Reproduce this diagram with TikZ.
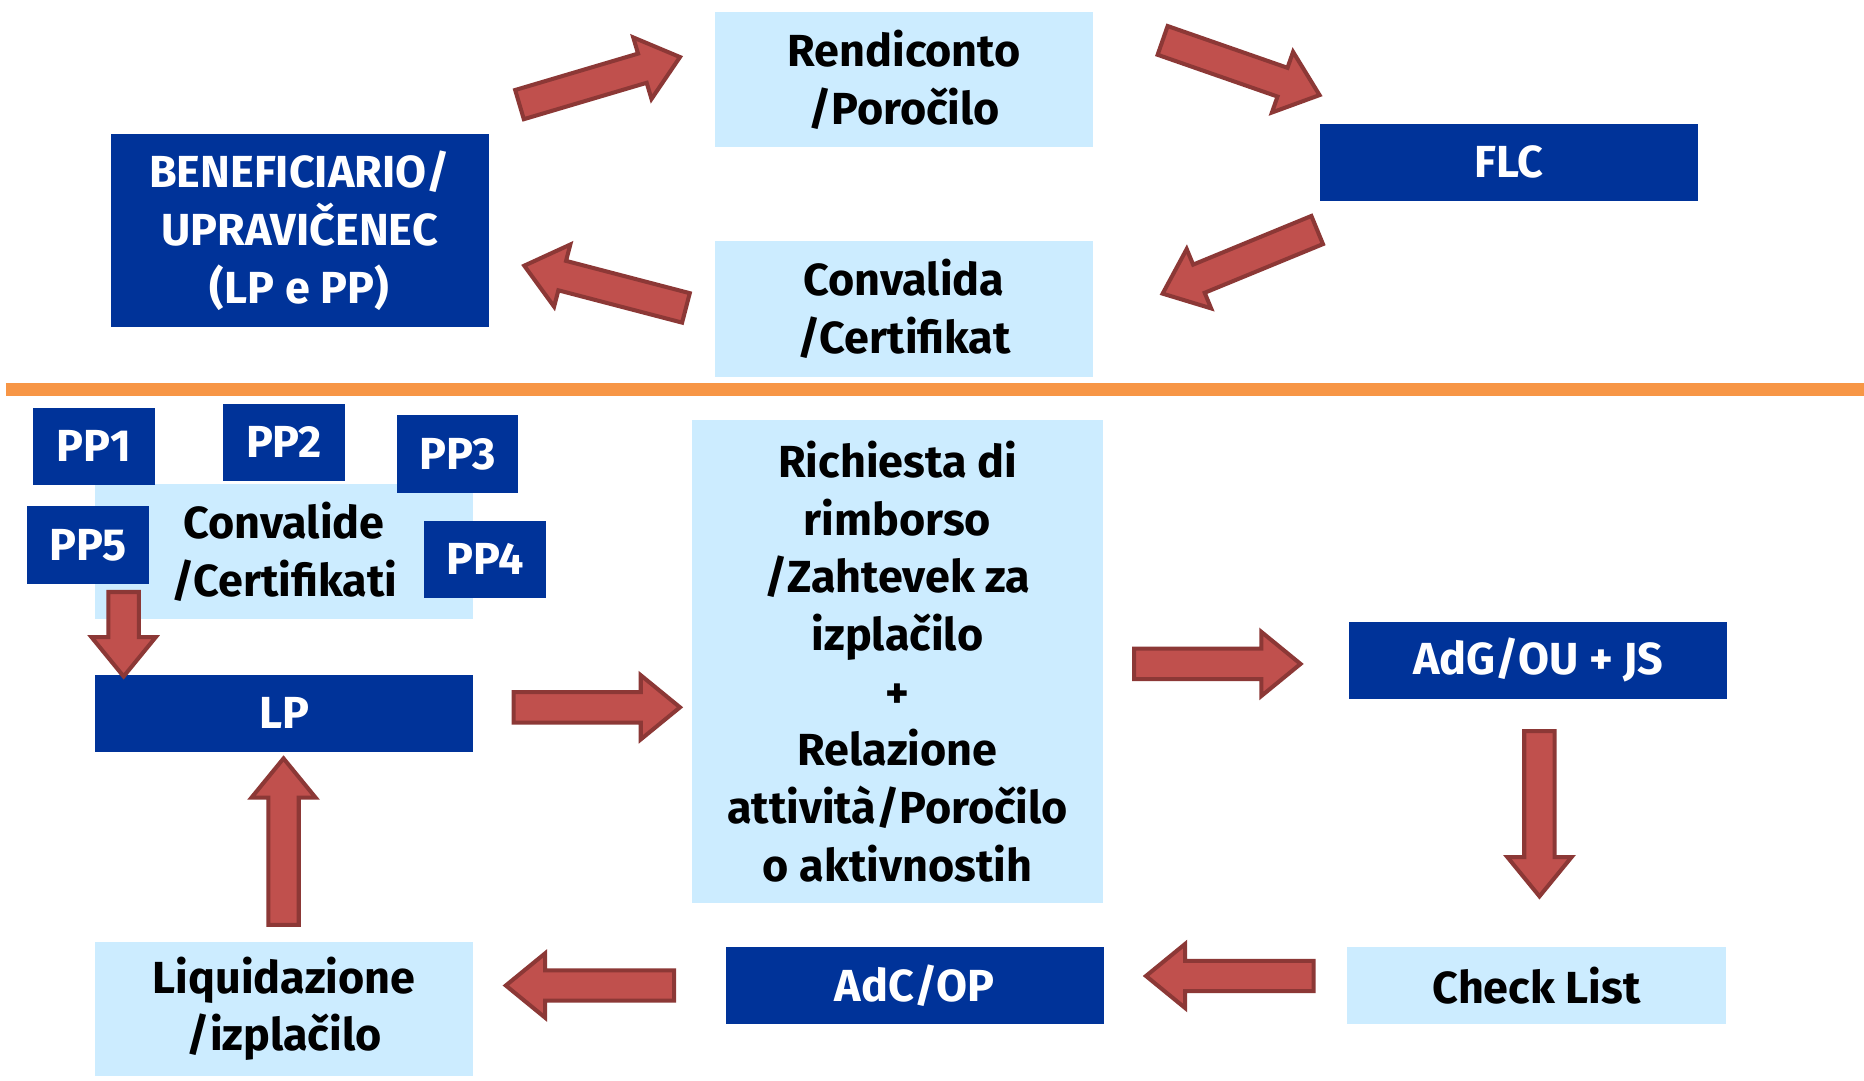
\documentclass[tikz,border=0pt]{standalone}
\usepackage{fontspec}
\setmainfont{Fira Sans}
\usetikzlibrary{calc}
\definecolor{dblue}{RGB}{0,51,153}
\definecolor{lblue}{RGB}{204,236,255}
\definecolor{orng}{RGB}{247,150,70}
\definecolor{afill}{RGB}{192,80,77}
\definecolor{aline}{RGB}{140,56,54}
\newcommand\blockarrow[2]{%
  \coordinate (bh) at ($(#2)!16.5pt!(#1)$);
  \draw[barrow] ($(#1)!6.4pt!90:(#2)$) -- ($(bh)!6.4pt!-90:(#1)$) -- ($(bh)!13.5pt!-90:(#1)$) -- (#2)
    -- ($(bh)!13.5pt!90:(#1)$) -- ($(bh)!6.4pt!90:(#1)$) -- ($(#1)!6.4pt!-90:(#2)$) -- cycle;}
\begin{document}
\begin{tikzpicture}[x=0.5pt,y=-0.5pt,
  box/.style={rectangle, inner sep=0pt, align=center, anchor=center,
    font=\fontsize{18.9}{24.25}\selectfont\bfseries},
  dark/.style={box, fill=dblue, text=white},
  light/.style={box, fill=lblue, text=black},
  wide/.style={minimum width=159pt},
  tall/.style={minimum height=57pt},
  flat/.style={minimum height=32.5pt},
  ppbox/.style={dark, minimum width=51pt, minimum height=32.5pt},
  barrow/.style={fill=afill, draw=aline, line width=1.7pt, line join=miter},
  sep/.style={draw=orng, line width=5.5pt}]
\useasboundingbox (0,0) rectangle (1568,909);
\fill[white] (0,0) rectangle (1568,909);

% top half
\node[dark, wide, minimum height=81pt] (benef) at (252,194) {BENEFICIARIO/\\UPRAVIČENEC\\(LP e PP)};
\node[light, wide, tall] (rend) at (760.5,67) {Rendiconto\\/Poročilo};
\node[dark, wide, flat] (flc) at (1269,136.5) {FLC};
\node[light, wide, tall] (conv) at (760.5,260) {Convalida\\/Certifikat};

\coordinate (sepL) at (5,327.5);
\coordinate (sepR) at (1568,327.5);
\draw[sep] (sepL) -- (sepR);

% bottom half
\node[light, wide, minimum height=56.5pt] (convs) at (239,464) {Convalide\\/Certifikati};
\node[ppbox] (pp1) at (79,375.5) {PP1};
\node[ppbox] (pp2) at (239,372) {PP2};
\node[ppbox] (pp3) at (385,382) {PP3};
\node[ppbox] (pp5) at (74,458.5) {PP5};
\node[ppbox] (pp4) at (408,470.5) {PP4};
\node[dark, wide, flat] (lp) at (239,600) {LP};
\node[light, minimum width=173pt, minimum height=203.5pt] (rich) at (755,556.5)
  {Richiesta di\\rimborso\\/Zahtevek za\\izplačilo\\+\\Relazione\\attività/Poročilo\\o aktivnostih};
\node[dark, wide, flat] (adg) at (1294,555.5) {AdG/OU + JS};
\node[light, wide, flat] (check) at (1292.5,829) {Check List};
\node[dark, wide, flat] (adc) at (769.5,829) {AdC/OP};
\node[light, wide, minimum height=56.5pt] (liq) at (239,848.5) {Liquidazione\\/izplačilo};

% arrow end points
\coordinate (a1s) at (437,88);     \coordinate (a1e) at (572,48);
\coordinate (a2s) at (978,34);     \coordinate (a2e) at (1110,80);
\coordinate (a3s) at (1108,193.5); \coordinate (a3e) at (978,247);
\coordinate (a4s) at (577,259);    \coordinate (a4e) at (441,223.5);
\coordinate (b1s) at (104,498);    \coordinate (b1e) at (104,569);
\coordinate (b2s) at (432,595);    \coordinate (b2e) at (572,595);
\coordinate (b3s) at (954,558.5);  \coordinate (b3e) at (1094,558.5);
\coordinate (b4s) at (1295,615);   \coordinate (b4e) at (1295,754);
\coordinate (b5s) at (1105,821);   \coordinate (b5e) at (964,821);
\coordinate (b6s) at (567,829);    \coordinate (b6e) at (425.5,829);
\coordinate (b7s) at (238.5,778);  \coordinate (b7e) at (238.5,638);

\blockarrow{a1s}{a1e}
\blockarrow{a2s}{a2e}
\blockarrow{a3s}{a3e}
\blockarrow{a4s}{a4e}
\blockarrow{b1s}{b1e}
\blockarrow{b2s}{b2e}
\blockarrow{b3s}{b3e}
\blockarrow{b4s}{b4e}
\blockarrow{b5s}{b5e}
\blockarrow{b6s}{b6e}
\blockarrow{b7s}{b7e}
\end{tikzpicture}
\end{document}
